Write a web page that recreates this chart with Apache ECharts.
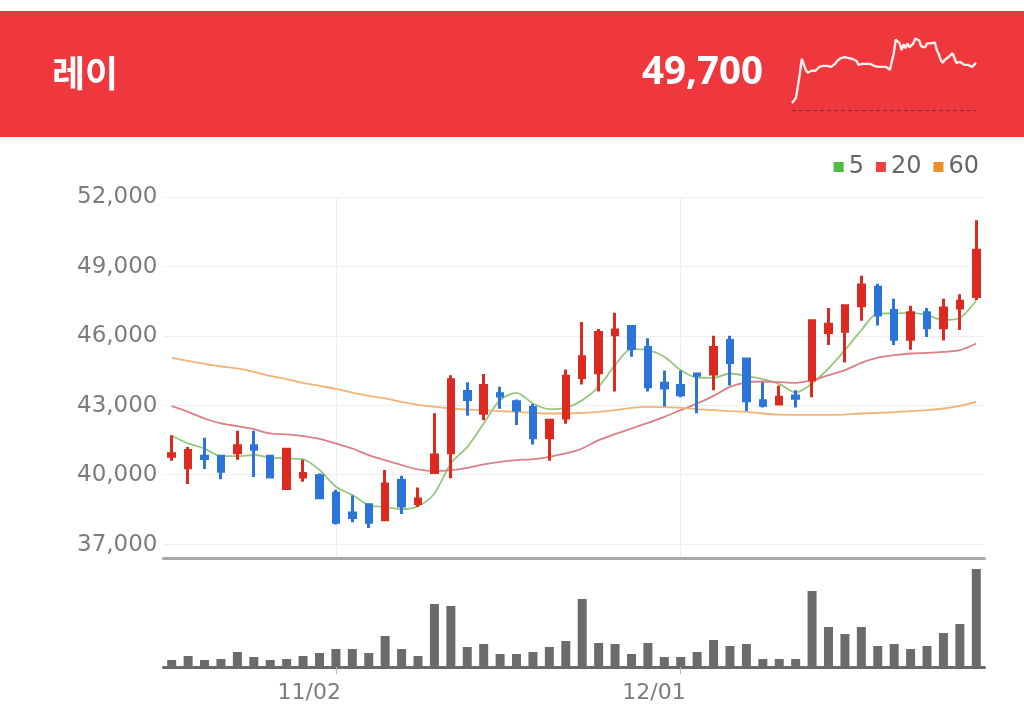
<!DOCTYPE html>
<html><head><meta charset="utf-8">
<style>html,body{margin:0;padding:0;background:#fff}#c{width:1024px;height:707px}</style>
<script src="https://cdn.jsdelivr.net/npm/echarts@6/dist/echarts.min.js"></script>
</head><body><div id="c"></div>
<script>
const stockName = '레이';
const lastPrice = '49,700';
const dates = ['10/19','10/20','10/21','10/22','10/23','10/26','10/27','10/28','10/29','10/30','11/02','11/03','11/04','11/05','11/06','11/09','11/10','11/11','11/12','11/13','11/16','11/17','11/18','11/19','11/20','11/23','11/24','11/25','11/26','11/27','11/30','12/01','12/02','12/03','12/04','12/07','12/08','12/09','12/10','12/11','12/14','12/15','12/16','12/17','12/18','12/21','12/22','12/23','12/24','12/28'];
const shownDates = ['11/02','12/01'];
const priceTicks = [37000,40000,43000,46000,49000,52000];
const opens  = [40800,40300,40800,40800,40950,41250,40800,39400,39900,39950,39200,38350,38700,38050,39750,38750,40100,40950,43600,42650,43500,43150,42900,41600,42450,44200,44400,46050,46400,45500,43950,43850,44350,44350,45800,45000,43200,43050,43400,44100,46150,46200,47300,48100,47100,45850,47000,46350,47200,47700];
const closes = [40900,41050,40700,40150,41250,41100,39900,41100,40050,39000,37950,38150,37950,39600,38650,38950,40850,44100,43250,43850,43400,42800,41600,42350,44250,45100,46150,46250,45450,43800,43750,43450,44300,45500,44850,43200,43000,43350,43300,46650,46500,47300,48200,46900,45850,47000,46350,47200,47500,49700];
const lows   = [40600,39600,40250,39800,40650,39900,39850,39400,39700,38950,37850,37950,37700,38050,38300,38600,40100,39850,42550,42350,42850,42150,41300,40600,42200,43900,43600,43600,45100,43600,42950,43350,42650,43650,43850,42750,42900,43050,42900,43350,45600,44850,46650,46450,45600,45400,45950,45800,46250,47550];
const highs  = [41700,41200,41600,40800,41900,41900,40800,41150,40650,40050,39350,39100,38750,40200,39950,39450,42650,44300,44000,44350,43800,43250,43050,42350,44550,46600,46300,47000,46400,45900,44500,44500,44350,46000,46000,45000,44000,43850,43650,46650,47200,47350,48600,48250,47600,47300,47200,47600,47800,51000];
const ma5  = [41680,41350,41130,40800,40800,40850,40745,40700,40660,40200,39480,39120,38685,38600,38510,38640,39190,40485,41205,42213,43220,43538,43077,42832,42890,43220,43797,44733,45424,45380,45093,44517,44200,44186,44373,44272,44128,43912,43552,43941,44589,45381,46245,46965,46965,46994,46893,46677,46778,47541];
const ma20 = [42962,42717,42429,42213,42098,41968,41781,41738,41666,41551,41349,41133,40845,40629,40413,40226,40154,40197,40298,40442,40557,40629,40672,40773,40917,41133,41493,41752,41997,42242,42501,42789,43077,43408,43797,43984,44027,43998,43970,44085,44301,44517,44834,45064,45165,45237,45266,45309,45381,45669];
const ma60 = [45050,44920,44790,44675,44590,44445,44270,44130,43970,43840,43710,43550,43410,43295,43150,43020,42935,42861,42818,42789,42746,42717,42674,42645,42645,42674,42717,42789,42890,42933,42919,42890,42832,42789,42746,42717,42645,42600,42587,42587,42587,42600,42645,42674,42703,42746,42789,42861,42976,43149];
const volumes = [7,11,7,8,15,10,7,8,11,14,18,18,14,31,18,11,63,61,20,23,13,13,15,20,26,68,24,23,13,24,10,10,15,27,21,23,8,8,8,76,40,33,40,21,23,18,21,34,43,98];
const sparkline = [47700,47750,47950,48550,49200,49950,49900,49400,49250,49350,49350,49400,49350,49400,49550,49550,49600,49650,49600,49600,49550,49600,49700,49850,49950,50000,50050,50050,50000,50000,49950,49950,49900,49850,49650,49600,49700,49750,49700,49750,49700,49650,49600,49600,49550,49550,49550,49550,49550,49450,49400,49400,50250,50950,51000,50750,50400,50700,50500,50750,50550,50500,50750,51000,51000,50900,50600,50650,50550,50750,50700,50750,50800,50800,50400,50200,49900,49750,49900,50000,50050,50100,50250,50000,49750,49850,49800,49750,49650,49650,49650,49550,49550,49600,49750];
const prevClose = 47340;

const UP = '#dc2a20', DOWN = '#2a74da', GRID = '#eeeeee', TXT = '#7c7c7c';
const font = 'DejaVu Sans';
const candles = opens.map((o, i) => [o, closes[i], lows[i], highs[i]]);
const sparkX = sparkline.map((_, i) => i);

const chart = echarts.init(document.getElementById('c'), null, {renderer: 'canvas'});
chart.setOption({
  animation: false,
  backgroundColor: '#fff',
  graphic: [
    {type: 'rect', z: -10, silent: true, shape: {x: 0, y: 11, width: 1024, height: 126}, style: {fill: '#ee383d'}},
    {type: 'text', z: 1, left: 52, top: 55, style: {text: stockName, fill: '#fff', font: '700 36px "Noto Sans CJK KR"'}},
    {type: 'text', z: 1, left: 642, top: 54, style: {text: lastPrice, fill: '#fff', font: '700 38.5px "Noto Sans"'}}
  ],
  legend: {
    data: ['5', '20', '60'], right: 40, top: 150, icon: 'rect', itemWidth: 10, itemHeight: 10, itemGap: 12,
    textStyle: {fontFamily: font, fontSize: 24, color: '#666', padding: 0}
  },
  grid: [
    {left: 163.5, right: 39.5, top: 197, height: 361},
    {left: 163.5, right: 39.5, top: 567, height: 100},
    {left: 792, width: 184, top: 30.7, height: 80.1}
  ],
  xAxis: [
    {type: 'category', gridIndex: 0, data: dates, axisLabel: {show: false}, axisTick: {show: false},
     axisLine: {lineStyle: {color: '#a8a8a8', width: 3}},
     splitLine: {show: true, alignWithLabel: true, interval: (i, v) => shownDates.includes(v), lineStyle: {color: GRID, width: 1}}},
    {type: 'category', gridIndex: 1, data: dates,
     axisLine: {lineStyle: {color: '#6a6a6a', width: 3}},
     axisTick: {show: true, alignWithLabel: true, length: 7, interval: (i, v) => shownDates.includes(v), lineStyle: {color: '#bbb'}},
     axisLabel: {show: true, interval: (i, v) => shownDates.includes(v), formatter: v => v, align: 'right', padding: [0, -5, 0, 0], margin: 15, color: TXT, fontFamily: font, fontSize: 22}},
    {type: 'category', gridIndex: 2, data: sparkX, boundaryGap: false, show: false}
  ],
  yAxis: [
    {type: 'value', gridIndex: 0, min: 36400, max: 52000, axisLine: {show: false},
     axisTick: {show: false, customValues: priceTicks},
     axisLabel: {customValues: priceTicks, formatter: v => v.toLocaleString('en-US'), margin: 6, verticalAlign: 'top', padding: [-11, 0, 0, 0], color: TXT, fontFamily: font, fontSize: 23, showMinLabel: true, showMaxLabel: true},
     splitLine: {show: true, lineStyle: {color: GRID, width: 1}}},
    {type: 'value', gridIndex: 1, min: 0, max: 100, show: false, splitLine: {show: false}},
    {type: 'value', gridIndex: 2, min: 47300, max: 51400, show: false, splitLine: {show: false}}
  ],
  series: [
    {name: 'price', type: 'candlestick', xAxisIndex: 0, yAxisIndex: 0, data: candles, barWidth: 6, z: 5,
     itemStyle: {color: UP, color0: DOWN, borderColor: UP, borderColor0: DOWN, borderWidth: 3}},
    {name: '5', type: 'line', xAxisIndex: 0, yAxisIndex: 0, data: ma5, showSymbol: false, smooth: 0.3, z: 3,
     itemStyle: {color: '#4cbb3f'}, lineStyle: {color: '#93c87e', width: 1.8}},
    {name: '20', type: 'line', xAxisIndex: 0, yAxisIndex: 0, data: ma20, showSymbol: false, smooth: 0.3, z: 3,
     itemStyle: {color: '#ee4040'}, lineStyle: {color: '#dc7f88', width: 1.8}},
    {name: '60', type: 'line', xAxisIndex: 0, yAxisIndex: 0, data: ma60, showSymbol: false, smooth: 0.3, z: 3,
     itemStyle: {color: '#ef8f23'}, lineStyle: {color: '#efb477', width: 1.8}},
    {name: 'volume', type: 'bar', xAxisIndex: 1, yAxisIndex: 1, data: volumes, barWidth: 9, itemStyle: {color: '#6b6b6b'}},
    {name: 'intraday', type: 'line', xAxisIndex: 2, yAxisIndex: 2, data: sparkline, showSymbol: false, z: 5,
     lineStyle: {color: '#fdeeea', width: 2.4},
     markLine: {silent: true, symbol: 'none', label: {show: false},
       data: [{yAxis: prevClose}], lineStyle: {color: '#7a2a2c', type: [4, 3], width: 1}}}
  ]
});
</script></body></html>
